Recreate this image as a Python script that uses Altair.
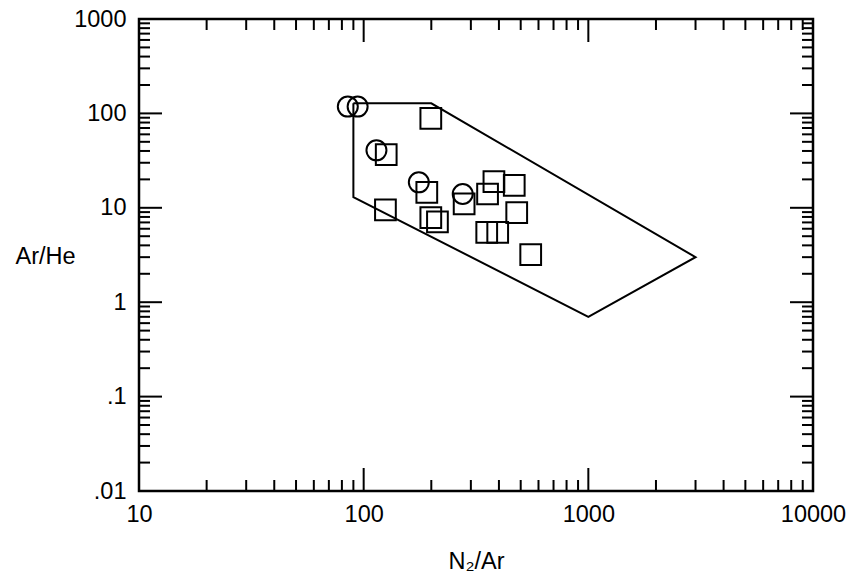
import altair as alt
import pandas as pd

# ---- data ----
circle_x = [85, 94, 114, 176, 276]
circle_y = [118, 118, 40.6, 18.6, 14.0]

square_x = [199, 126, 191, 125, 199, 213, 280, 356, 380, 468, 480, 353, 395, 554]
square_y = [88.7, 36.5, 14.6, 9.5, 7.85, 7.08, 11.0, 14.0, 18.9, 17.3, 8.9, 5.5, 5.5, 3.2]

poly_x = [90, 200, 3000, 1000, 90, 90]
poly_y = [128, 128, 3, 0.7, 13, 128]

x_major = [10, 100, 1000, 10000]
y_major = [0.01, 0.1, 1, 10, 100, 1000]
x_minor = [k * 10 ** d for d in (1, 2, 3) for k in range(2, 10)]
y_minor = [k * 10.0 ** d for d in (-2, -1, 0, 1, 2) for k in range(2, 10)]

W, H = 674, 472
FONT = "Liberation Sans"
FS = 23.5
LW = 2

xscale = alt.Scale(type="log", domain=[10, 10000], nice=False)
yscale = alt.Scale(type="log", domain=[0.01, 1000], nice=False)

circles = pd.DataFrame({"x": circle_x, "y": circle_y})
squares = pd.DataFrame({"x": square_x, "y": square_y})
poly = pd.DataFrame({"x": poly_x, "y": poly_y, "o": list(range(len(poly_x)))})

xaxis = alt.Axis(
    values=x_major, ticks=False, tickSize=0, domain=False, grid=False,
    labelFont=FONT, labelFontSize=FS, labelColor="black", labelPadding=11,
    labelFlush=False, labelExpr="format(datum.value, 'd')",
    title="N₂/Ar", titleFont=FONT, titleFontSize=FS, titleFontWeight="normal",
    titleColor="black", titleBaseline="alphabetic", titleY=77,
)
yaxis = alt.Axis(
    values=y_major, ticks=False, tickSize=0, domain=False, grid=False,
    labelFont=FONT, labelFontSize=FS, labelColor="black", labelPadding=13,
    labelFlush=False,
    labelExpr="datum.value < 0.05 ? '.01' : datum.value < 0.5 ? '.1' : format(datum.value, 'd')",
    title="Ar/He", titleFont=FONT, titleFontSize=FS, titleFontWeight="normal",
    titleColor="black", titleAngle=0, titleAlign="center", titleBaseline="alphabetic",
    titleX=-94, titleY=244,
)


def X(field):
    return alt.X(field, scale=xscale, axis=xaxis, title="N₂/Ar")


def Y(field):
    return alt.Y(field, scale=yscale, axis=yaxis, title="Ar/He")


polygon = alt.Chart(poly).mark_line(color="black", strokeWidth=LW).encode(
    x=X("x:Q"), y=Y("y:Q"), order="o:O",
)

circ = alt.Chart(circles).mark_point(
    shape="circle", filled=False, color="black", strokeWidth=LW, size=400, opacity=1
).encode(x=X("x:Q"), y=Y("y:Q"))

sq = alt.Chart(squares).mark_point(
    shape="square", filled=False, color="black", strokeWidth=LW, size=430, opacity=1
).encode(x=X("x:Q"), y=Y("y:Q"))


def xticks(vals, length):
    d = pd.DataFrame({"x": vals})
    bottom = alt.Chart(d).mark_rule(color="black", strokeWidth=LW).encode(
        x=X("x:Q"), y=alt.value(H), y2=alt.value(H - length),
    )
    top = alt.Chart(d).mark_rule(color="black", strokeWidth=LW).encode(
        x=X("x:Q"), y=alt.value(0), y2=alt.value(length),
    )
    return [bottom, top]


def yticks(vals, length):
    d = pd.DataFrame({"y": vals})
    left = alt.Chart(d).mark_rule(color="black", strokeWidth=LW).encode(
        y=Y("y:Q"), x=alt.value(0), x2=alt.value(length),
    )
    right = alt.Chart(d).mark_rule(color="black", strokeWidth=LW).encode(
        y=Y("y:Q"), x=alt.value(W), x2=alt.value(W - length),
    )
    return [left, right]


tick_layers = (
    xticks(x_major, 23) + xticks(x_minor, 11) + yticks(y_major, 23) + yticks(y_minor, 11)
)

chart = alt.layer(polygon, circ, sq, *tick_layers).properties(
    width=W, height=H,
    autosize=alt.AutoSizeParams(type="none"),
    padding={"left": 139, "top": 19, "right": 39, "bottom": 87},
    background="white",
).configure_view(stroke="black", strokeWidth=2.5)

chart.save("out.html", embed_options={"renderer": "svg", "actions": False})
